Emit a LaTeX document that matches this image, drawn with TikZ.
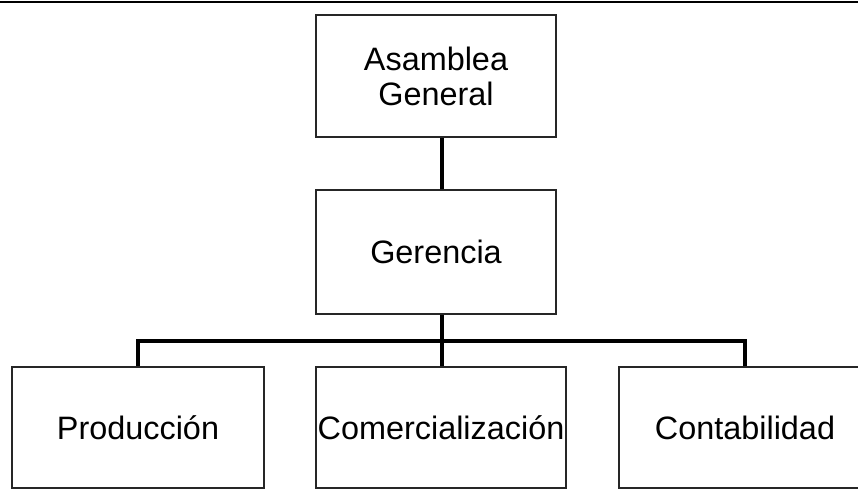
\documentclass[tikz,border=0pt]{standalone}
\usepackage{fontspec}
\setmainfont{Liberation Sans}
\usepackage{tikz}

\begin{document}
\begin{tikzpicture}[x=0.5pt, y=-0.5pt,
		caja/.style={draw=black!85, line width=0.8pt, inner sep=0pt, align=center,
			font=\fontsize{16.2}{17.5}\selectfont},
		linea/.style={line width=2pt}]
		\path[use as bounding box, clip] (0, 0) rectangle (858, 489);
		\draw[line width=1pt] (0, 2) -- (858, 2);

		\node[caja, minimum width=120pt, minimum height=61pt] at (436, 76) (asamblea) {Asamblea\\General};
		\node[caja, minimum width=120pt, minimum height=62pt] at (436, 252) (gerencia) {Gerencia};
		\node[caja, minimum width=126pt, minimum height=60.5pt] at (138, 427.5) (prod) {Producción};
		\node[caja, minimum width=125pt, minimum height=60.5pt] at (441, 427.5) (com) {Comercialización};
		\node[caja, minimum width=126pt, minimum height=60.5pt] at (745, 427.5) (cont) {Contabilidad};

		\coordinate (bus) at (442, 341);

		\draw[linea] (asamblea.south -| bus) -- (gerencia.north -| bus);
		\draw[linea] (gerencia.south -| bus) -- (com.north -| bus);
		\draw[linea] (prod.north) |- (bus) -| (cont.north);
	\end{tikzpicture}
\end{document}
